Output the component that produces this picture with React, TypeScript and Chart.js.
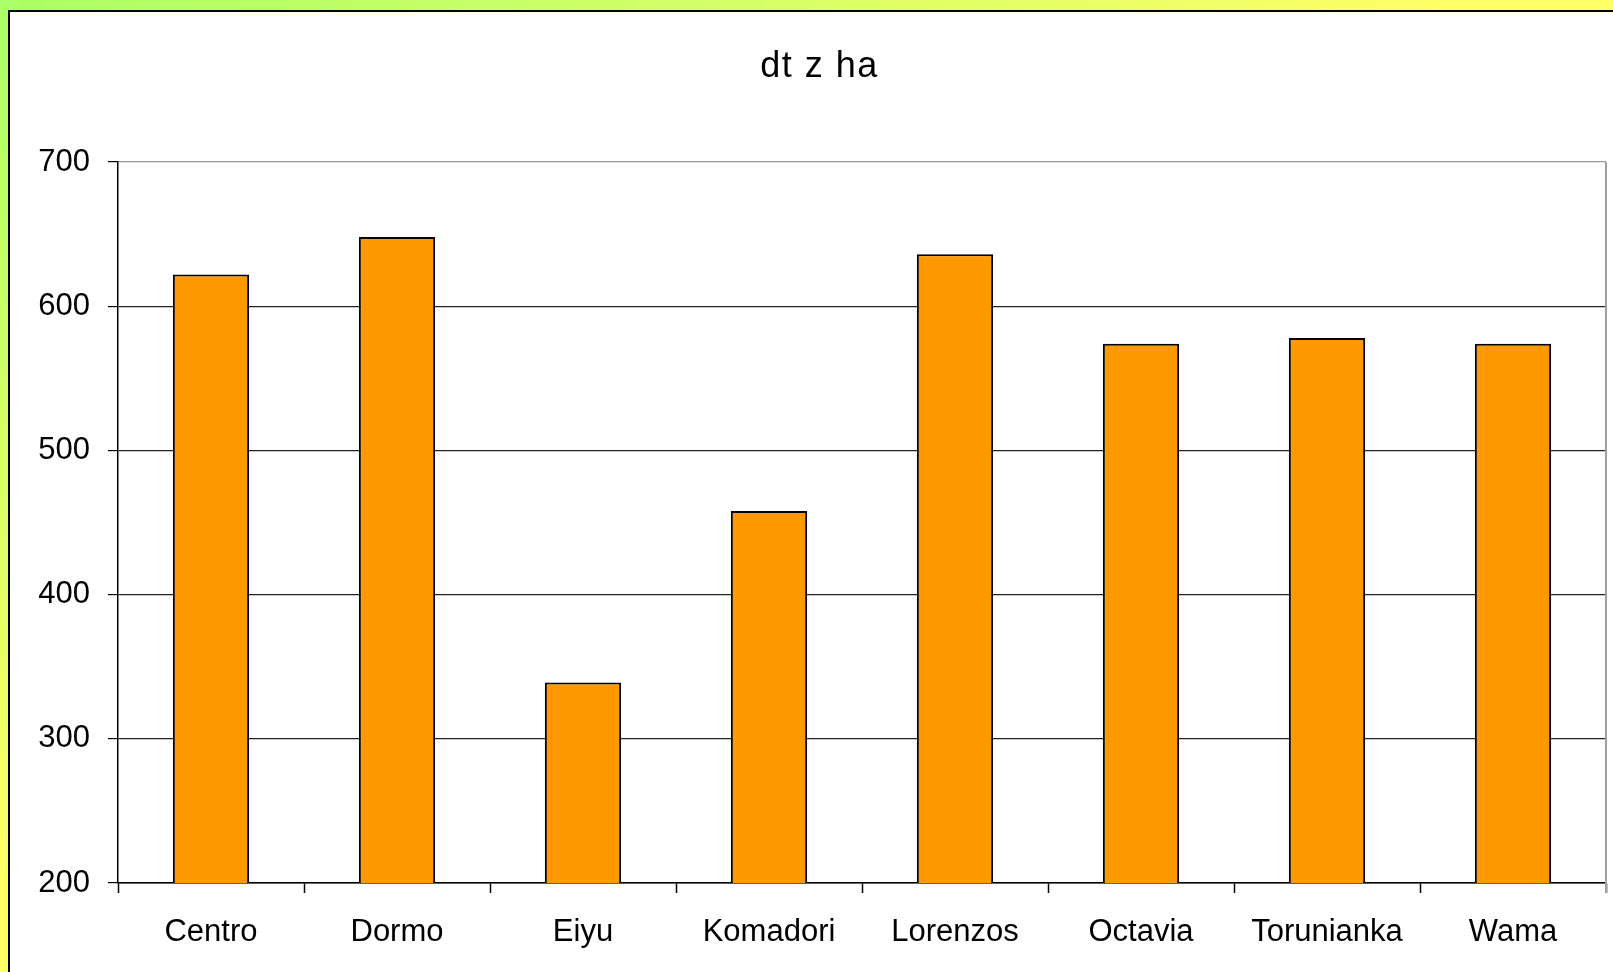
import React, { useEffect, useRef } from "react";
import { Chart, registerables } from "chart.js";

Chart.register(...registerables);

const categories = ["Centro", "Dormo", "Eiyu", "Komadori", "Lorenzos", "Octavia", "Torunianka", "Wama"];
const values = [622, 648, 339, 458, 636, 574, 578, 574];
const titleText = "dt z ha";
const yMin = 200;
const yMax = 700;
const yStep = 100;

const FONT = '"Liberation Sans", Arial, sans-serif';

const decorations = {
  id: "decorations",
  afterDraw(chart: any) {
    const { ctx, chartArea } = chart;
    ctx.save();
    // right border of the plot area
    ctx.strokeStyle = "#a0a0a0";
    ctx.lineWidth = 2;
    ctx.beginPath();
    ctx.moveTo(chartArea.right, chartArea.top);
    ctx.lineTo(chartArea.right, chartArea.bottom + 10);
    ctx.stroke();
    // title with slight Excel-like letter spacing
    ctx.fillStyle = "#000";
    ctx.font = `36px ${FONT}`;
    try {
      (ctx as any).letterSpacing = "1.5px";
    } catch (e) {}
    ctx.textAlign = "center";
    ctx.textBaseline = "alphabetic";
    ctx.fillText(titleText, chart.width / 2 + 13, 77);
    ctx.restore();
  },
};

export default function App() {
  const ref = useRef<HTMLCanvasElement | null>(null);

  useEffect(() => {
    if (!ref.current) return;
    const chart = new Chart(ref.current, {
      type: "bar",
      data: {
        labels: categories,
        datasets: [
          {
            data: values,
            backgroundColor: "#FF9900",
            borderColor: "#000000",
            borderWidth: 2,
            borderSkipped: false,
            barPercentage: 0.41,
            categoryPercentage: 1,
          },
        ],
      },
      options: {
        responsive: false,
        animation: false,
        devicePixelRatio: 1,
        layout: { padding: { left: 0, right: 7, top: 162, bottom: 0 } },
        plugins: {
          legend: { display: false },
          tooltip: { enabled: false },
          title: { display: false },
        },
        scales: {
          x: {
            offset: true,
            grid: {
              drawOnChartArea: false,
              offset: true,
              tickLength: 10,
              tickColor: "#000",
              tickWidth: 1.5,
            },
            border: { color: "#000", width: 1.5 },
            ticks: {
              color: "#000",
              font: { family: FONT, size: 31 },
              padding: 21,
            },
            afterFit(scale: any) {
              scale.height = 89;
            },
          },
          y: {
            min: yMin,
            max: yMax,
            ticks: {
              stepSize: yStep,
              color: "#000",
              font: { family: FONT, size: 31 },
              padding: 18,
            },
            grid: {
              color: (c: any) => (c.tick && c.tick.value === yMax ? "#999999" : "#222222"),
              lineWidth: 1.2,
              tickLength: 10,
              tickColor: "#000",
            },
            border: { color: "#000", width: 1.5 },
            afterFit(scale: any) {
              scale.width = 118;
            },
          },
        },
      },
      plugins: [decorations],
    });
    return () => chart.destroy();
  }, []);

  return (
    <div
      style={{
        position: "fixed",
        left: 0,
        top: 0,
        width: 1613,
        height: 972,
        overflow: "hidden",
        background: "linear-gradient(to bottom right, #aaff66 0%, #ffff66 45%, #ffff66 100%)",
      }}
    >
      <div
        style={{
          position: "absolute",
          left: 8,
          top: 10,
          right: -4,
          bottom: -4,
          background: "#fff",
          borderLeft: "2px solid #000",
          borderTop: "2px solid #000",
        }}
      />
      <canvas
        ref={ref}
        width={1613}
        height={972}
        style={{ position: "absolute", left: 0, top: 0, display: "block" }}
      />
    </div>
  );
}
